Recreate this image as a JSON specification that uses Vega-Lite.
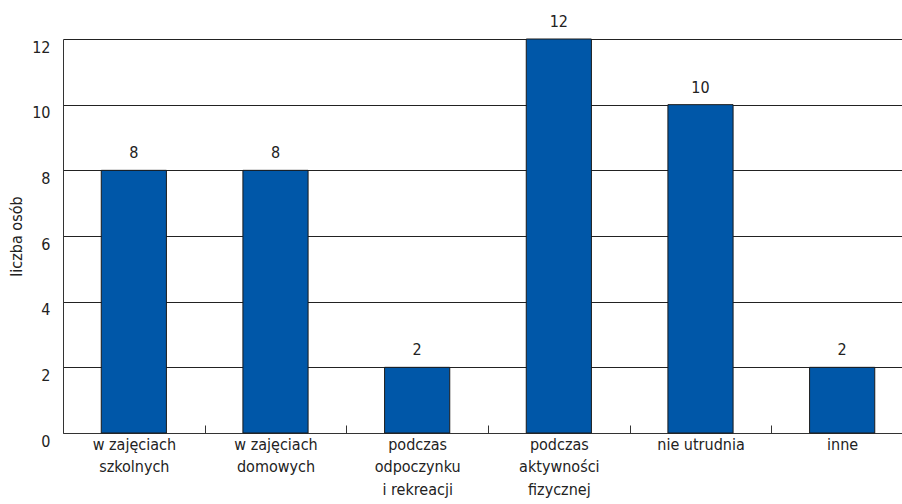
{
  "$schema": "https://vega.github.io/schema/vega-lite/v6.json",
  "autosize": {"type": "none"},
  "padding": {"left": 63, "top": 39, "right": 0, "bottom": 71},
  "width": 850,
  "height": 394,
  "background": "white",
  "config": {
    "view": {"stroke": null},
    "font": "DejaVu Sans Condensed, sans-serif",
    "axis": {"labelFont": "DejaVu Sans Condensed, sans-serif", "titleFont": "DejaVu Sans Condensed, sans-serif"}
  },
  "data": {
    "values": [
      {"kategoria": "w zajęciach|szkolnych", "liczba": 8},
      {"kategoria": "w zajęciach|domowych", "liczba": 8},
      {"kategoria": "podczas|odpoczynku|i rekreacji", "liczba": 2},
      {"kategoria": "podczas|aktywności|fizycznej", "liczba": 12},
      {"kategoria": "nie utrudnia", "liczba": 10},
      {"kategoria": "inne", "liczba": 2}
    ]
  },
  "encoding": {
    "x": {
      "field": "kategoria",
      "type": "nominal",
      "sort": null,
      "scale": {"paddingInner": 0.54, "paddingOuter": 0.27},
      "axis": {
        "title": null,
        "labelAngle": 0,
        "labelExpr": "split(datum.label, '|')",
        "labelFontSize": 16,
        "labelColor": "#222222",
        "labelPadding": 11,
        "labelLineHeight": 22.5,
        "labelBaseline": "top",
        "labelOffset": -70.83,
        "ticks": true,
        "tickOffset": 70.83,
        "tickSize": -8,
        "tickWidth": 1,
        "tickColor": "#333333",
        "domainColor": "#333333",
        "grid": false
      }
    },
    "y": {
      "field": "liczba",
      "type": "quantitative",
      "scale": {"domain": [0, 12], "nice": false},
      "axis": {
        "title": "liczba osób",
        "titleFontSize": 16,
        "titleFontWeight": "normal",
        "titleColor": "#222222",
        "titlePadding": 7,
        "values": [0, 2, 4, 6, 8, 10, 12],
        "labelFontSize": 16,
        "labelColor": "#222222",
        "labelPadding": 13,
        "labelBaseline": "top",
        "tickSize": 0,
        "grid": true,
        "gridColor": "#222222",
        "gridWidth": 1,
        "domainColor": "#333333"
      }
    }
  },
  "layer": [
    {
      "mark": {"type": "bar", "color": "#0057a8", "stroke": "#1a1a1a", "strokeWidth": 1}
    },
    {
      "mark": {"type": "text", "baseline": "bottom", "dy": -9, "fontSize": 16, "color": "#222222"},
      "encoding": {"text": {"field": "liczba", "type": "quantitative"}}
    }
  ]
}
